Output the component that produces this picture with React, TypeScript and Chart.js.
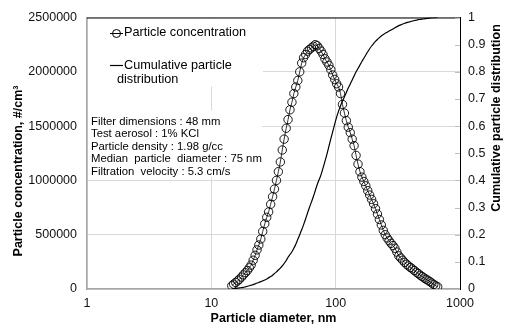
import React, { useEffect, useRef } from 'react';
import { Chart, registerables } from 'chart.js';

Chart.register(...registerables);

// Particle diameter (nm) — SMPS channel midpoints
const diameters = [
  14.6, 15.1, 15.7, 16.3, 16.8, 17.5, 18.1, 18.8, 19.5, 20.2,
  20.9, 21.7, 22.5, 23.3, 24.1, 25.0, 25.9, 26.9, 27.9, 28.9,
  30.0, 31.1, 32.2, 33.4, 34.6, 35.9, 37.2, 38.5, 40.0, 41.4,
  42.9, 44.5, 46.1, 47.8, 49.6, 51.4, 53.3, 55.2, 57.3, 59.4,
  61.5, 63.8, 66.1, 68.5, 71.0, 73.7, 76.4, 79.1, 82.0, 85.1,
  88.2, 91.4, 94.7, 98.2, 101.8, 105.5, 109.4, 113.4, 117.6, 121.9,
  126.3, 131.0, 135.8, 140.7, 145.9, 151.2, 156.8, 162.5, 168.5, 174.7,
  181.1, 187.7, 194.6, 201.7, 209.1, 216.7, 224.7, 232.9, 241.4, 250.3,
  259.5, 269.0, 278.8, 289.0, 299.6, 310.6, 322.0, 333.8, 346.0, 358.7,
  371.8, 385.4, 399.5, 414.2, 429.4, 445.1, 461.4, 478.3, 495.8, 514.0,
  532.8, 552.3, 572.5, 593.5, 615.3, 637.8, 661.2,
];

// Particle concentration (#/cm3)
const concentration = [
  30000, 45000, 60000, 75000, 90000, 110000, 130000, 150000, 170000, 195000,
  220000, 265000, 310000, 360000, 405000, 460000, 530000, 600000, 660000, 710000,
  780000, 850000, 920000, 1000000, 1080000, 1170000, 1280000, 1380000, 1480000, 1560000,
  1650000, 1720000, 1800000, 1860000, 1920000, 2000000, 2080000, 2130000, 2160000, 2190000,
  2205000, 2220000, 2235000, 2250000, 2240000, 2215000, 2190000, 2160000, 2120000, 2090000,
  2060000, 2020000, 1970000, 1930000, 1890000, 1860000, 1800000, 1700000, 1620000, 1550000,
  1490000, 1440000, 1380000, 1320000, 1230000, 1150000, 1080000, 1030000, 990000, 950000,
  905000, 865000, 825000, 785000, 740000, 690000, 640000, 590000, 540000, 500000,
  470000, 445000, 420000, 400000, 375000, 340000, 305000, 285000, 265000, 245000,
  228000, 212000, 198000, 185000, 170000, 155000, 142000, 127000, 115000, 102000,
  90000, 80000, 68000, 55000, 42000, 30000, 20000,
];

// Cumulative particle distribution (0..1)
const cumulative = [
  0.0, 0.001, 0.002, 0.003, 0.004, 0.005, 0.006, 0.008, 0.01, 0.012,
  0.014, 0.016, 0.019, 0.022, 0.024, 0.027, 0.03, 0.033, 0.037, 0.041,
  0.046, 0.051, 0.057, 0.063, 0.07, 0.077, 0.085, 0.094, 0.105, 0.117,
  0.127, 0.137, 0.15, 0.165, 0.183, 0.2, 0.218, 0.237, 0.258, 0.28,
  0.3, 0.32, 0.34, 0.362, 0.384, 0.403, 0.422, 0.445, 0.47, 0.497,
  0.525, 0.553, 0.58, 0.607, 0.633, 0.655, 0.675, 0.692, 0.708, 0.724,
  0.74, 0.755, 0.77, 0.785, 0.8, 0.812, 0.825, 0.838, 0.85, 0.862,
  0.874, 0.885, 0.895, 0.904, 0.912, 0.919, 0.926, 0.932, 0.937, 0.942,
  0.946, 0.95, 0.954, 0.958, 0.962, 0.966, 0.97, 0.973, 0.976, 0.979,
  0.981, 0.983, 0.985, 0.987, 0.989, 0.99, 0.992, 0.993, 0.994, 0.995,
  0.996, 0.997, 0.998, 0.999, 0.999, 1.0, 1.0,
];

const xTicks = [1, 10, 100, 1000];
const legendLabels = ['Particle concentration', 'Cumulative particle', 'distribution'];
const noteLines = [
  'Filter dimensions : 48 mm',
  'Test aerosol : 1% KCl',
  'Particle density : 1.98 g/cc',
  'Median  particle  diameter : 75 nm',
  'Filtration  velocity : 5.3 cm/s',
];
const xTitle = 'Particle diameter, nm';
const yTitle = 'Particle concentration, #/cm³';
const y1Title = 'Cumulative particle distribution';

const FONT = '"Liberation Sans", Arial, sans-serif';
const GRID = '#d9d9d9';
const AXIS = '#a6a6a6';

const decor = {
  id: 'decor',
  beforeDatasetsDraw(chart: any) {
    const { ctx, chartArea } = chart;
    const l = chartArea.left;
    ctx.save();
    ctx.fillStyle = '#ffffff';
    ctx.fillRect(l + 1, chartArea.top + 1, 175, 68);
    ctx.fillRect(l + 1, chartArea.top + 93, 174, 67);
    ctx.restore();
  },
  afterDraw(chart: any) {
    const { ctx, chartArea } = chart;
    const l = chartArea.left;
    const t = chartArea.top;
    ctx.save();
    // top border
    ctx.strokeStyle = '#000';
    ctx.lineWidth = 1;
    ctx.beginPath();
    ctx.moveTo(l, t + 0.5);
    ctx.lineTo(chartArea.right, t + 0.5);
    ctx.stroke();

    // inside tick marks on right axis
    const y1 = chart.scales.y1;
    ctx.strokeStyle = '#bfbfbf';
    y1.ticks.forEach((tk: any) => {
      const yy = Math.round(y1.getPixelForValue(tk.value)) + 0.5;
      ctx.beginPath();
      ctx.moveTo(chartArea.right - 5, yy);
      ctx.lineTo(chartArea.right, yy);
      ctx.stroke();
    });

    // legend
    ctx.fillStyle = '#000';
    ctx.strokeStyle = '#000';
    ctx.textBaseline = 'middle';
    ctx.textAlign = 'left';
    ctx.font = `12.7px ${FONT}`;
    ctx.lineWidth = 1;
    ctx.beginPath();
    ctx.moveTo(l + 23, t + 16);
    ctx.lineTo(l + 36, t + 16);
    ctx.stroke();
    ctx.beginPath();
    ctx.arc(l + 29.5, t + 16, 4, 0, Math.PI * 2);
    ctx.stroke();
    ctx.fillText(legendLabels[0], l + 37, t + 15);
    ctx.lineWidth = 1.2;
    ctx.beginPath();
    ctx.moveTo(l + 23, t + 48);
    ctx.lineTo(l + 36, t + 48);
    ctx.stroke();
    ctx.fillText(legendLabels[1], l + 37, t + 48);
    ctx.fillText(legendLabels[2], l + 30, t + 62);

    // notes
    ctx.font = `11.3px ${FONT}`;
    noteLines.forEach((s, i) => {
      ctx.fillText(s, l + 4, t + 104 + i * 12.5);
    });

    // axis titles
    ctx.font = `bold 12.5px ${FONT}`;
    ctx.textAlign = 'center';
    ctx.fillText(xTitle, (chartArea.left + chartArea.right) / 2, 319);
    ctx.save();
    ctx.translate(19, 171);
    ctx.rotate(-Math.PI / 2);
    ctx.fillText(yTitle, 0, 0);
    ctx.restore();
    ctx.save();
    ctx.translate(497, 118);
    ctx.rotate(-Math.PI / 2);
    ctx.fillText(y1Title, 0, 0);
    ctx.restore();
    ctx.restore();
  },
};

export default function App() {
  const ref = useRef<HTMLCanvasElement | null>(null);
  useEffect(() => {
    document.body.style.margin = '0';
    const canvas = ref.current;
    if (!canvas) return;
    const chart = new Chart(canvas, {
      type: 'line',
      data: {
        datasets: [
          {
            label: legendLabels[0],
            data: diameters.map((d, i) => ({ x: d, y: concentration[i] })),
            yAxisID: 'y',
            borderColor: '#000',
            borderWidth: 0.8,
            pointRadius: 4.2,
            pointBorderWidth: 0.9,
            pointBorderColor: '#000',
            pointBackgroundColor: 'rgba(0,0,0,0)',
            fill: false,
            tension: 0,
          },
          {
            label: legendLabels[1] + ' ' + legendLabels[2],
            data: diameters.map((d, i) => ({ x: d, y: cumulative[i] })),
            yAxisID: 'y1',
            borderColor: '#000',
            borderWidth: 1.2,
            pointRadius: 0,
            fill: false,
            cubicInterpolationMode: 'monotone',
          },
        ],
      },
      options: {
        responsive: false,
        animation: false,
        events: [],
        layout: { padding: { top: 13, left: 0, right: 0, bottom: 0 } },
        plugins: { legend: { display: false }, tooltip: { enabled: false } },
        scales: {
          x: {
            type: 'logarithmic',
            min: 1,
            max: 1000,
            afterBuildTicks: (s: any) => {
              s.ticks = xTicks.map((v) => ({ value: v }));
            },
            afterFit: (s: any) => {
              s.height = 40;
            },
            ticks: {
              autoSkip: false,
              maxRotation: 0,
              padding: 7,
              color: '#111',
              font: { family: FONT, size: 12.5 },
              callback: (v: any) => String(v),
            },
            grid: { color: GRID, drawTicks: false },
            border: { color: AXIS, width: 1.5 },
          },
          y: {
            type: 'linear',
            position: 'left',
            min: 0,
            max: 2500000,
            afterFit: (s: any) => {
              s.width = 87;
            },
            ticks: {
              stepSize: 500000,
              padding: 10,
              color: '#111',
              font: { family: FONT, size: 12.5 },
              callback: (v: any) => String(v),
            },
            grid: { color: GRID, drawTicks: false },
            border: { color: AXIS, width: 1.5 },
          },
          y1: {
            type: 'linear',
            position: 'right',
            min: 0,
            max: 1,
            afterFit: (s: any) => {
              s.width = 47;
            },
            ticks: {
              stepSize: 0.1,
              padding: 8,
              color: '#111',
              font: { family: FONT, size: 12.5 },
              callback: (v: any) => String(Math.round(Number(v) * 10) / 10),
            },
            grid: { drawOnChartArea: false, drawTicks: false },
            border: { color: '#000', width: 1 },
          },
        },
      },
      plugins: [decor],
    } as any);
    return () => chart.destroy();
  }, []);
  return <canvas ref={ref} width={507} height={329} style={{ width: 507, height: 329, display: 'block' }} />;
}
